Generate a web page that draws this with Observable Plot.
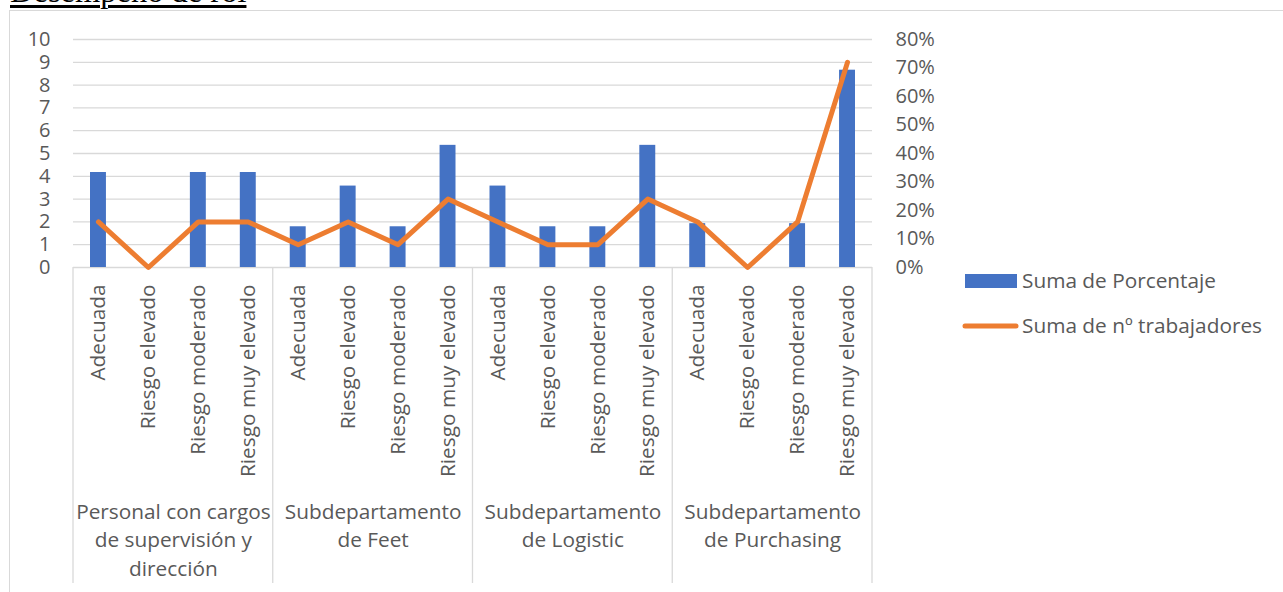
<!DOCTYPE html>
<html>
<head>
<meta charset="utf-8">
<script src="https://cdn.jsdelivr.net/npm/d3@7"></script>
<script src="https://cdn.jsdelivr.net/npm/@observablehq/plot@0.6"></script>
<style>
  html, body { margin: 0; padding: 0; background: #fff; }
  #wrap { position: relative; width: 1283px; height: 592px; overflow: hidden; }
  #title {
    position: absolute; left: 10px; top: -25px;
    font-family: "Liberation Serif", "Times New Roman", serif;
    font-size: 32.5px; line-height: 33px; color: #000;
    text-decoration: underline; text-decoration-thickness: 2.5px;
    text-underline-offset: 3px; white-space: nowrap;
  }
  #frame {
    position: absolute; left: 9px; top: 10px; right: -5px; bottom: -5px;
    border-top: 1.3px solid #d9d9d9; border-left: 1.3px solid #d9d9d9;
  }
  #chart { position: absolute; left: 0; top: 0; width: 1283px; height: 592px; }
</style>
</head>
<body>
<div id="wrap">
  <div id="title">Desempeño de rol</div>
  <div id="frame"></div>
  <div id="chart"></div>
</div>
<script>
// Departments (outer axis level) and risk levels (inner axis level)
const groups = [
  "Personal con cargos\nde supervisión y\ndirección",
  "Subdepartamento\nde Feet",
  "Subdepartamento\nde Logistic",
  "Subdepartamento\nde Purchasing"
];
const categories = ["Adecuada", "Riesgo elevado", "Riesgo moderado", "Riesgo muy elevado"];

// Suma de nº trabajadores (left axis), one row per department
const trabajadores = [
  [2, 0, 2, 2],
  [1, 2, 1, 3],
  [2, 1, 1, 3],
  [2, 0, 2, 9]
];

// Suma de Porcentaje (right axis, %), one row per department
const porcentaje = [
  [33.33, 0, 33.33, 33.33],
  [14.29, 28.57, 14.29, 42.86],
  [28.57, 14.29, 14.29, 42.86],
  [15.38, 0, 15.38, 69.23]
];

const leftTicks = [0, 1, 2, 3, 4, 5, 6, 7, 8, 9, 10];
const rightTicks = [0, 10, 20, 30, 40, 50, 60, 70, 80];

const blue = "#4472C4";
const orange = "#ED7D31";
const textColor = "#595959";
const gridColor = "#d9d9d9";

const rows = [];
groups.forEach((g, gi) => {
  categories.forEach((c, ci) => {
    rows.push({
      key: gi + "|" + c,
      group: gi,
      category: c,
      count: trabajadores[gi][ci],
      pct: porcentaje[gi][ci]
    });
  });
});
const keys = rows.map(d => d.key);

const W = 1283, H = 592;
const mL = 73, mR = 411, mT = 39, mB = 325;
const bw = (W - mL - mR) / keys.length;

// secondary axis: the percentage range [0, 80] shares the height of the count range [0, 10]
const leftMax = leftTicks[leftTicks.length - 1];
const rightMax = rightTicks[rightTicks.length - 1];
const toLeft = p => p * leftMax / rightMax;

const groupRows = groups.map((label, gi) => ({label, key: keys[gi * 4 + 2]}));

const chart = Plot.plot({
  width: W,
  height: H,
  marginLeft: mL,
  marginRight: mR,
  marginTop: mT,
  marginBottom: mB,
  style: {fontFamily: "'Open Sans', sans-serif", fontSize: "20px", color: textColor, background: "transparent"},
  x: {domain: keys, padding: 0, round: false, axis: null, label: null},
  y: {domain: [0, leftMax], axis: null, label: null},
  marks: [
    Plot.gridY(leftTicks, {stroke: gridColor, strokeOpacity: 1, strokeWidth: 1.3}),
    Plot.barY(rows, {x: "key", y: d => toLeft(d.pct), fill: blue, insetLeft: 17, insetRight: 17}),
    Plot.lineY(rows, {x: "key", y: "count", stroke: orange, strokeWidth: 5, strokeLinejoin: "round", strokeLinecap: "round"}),
    Plot.axisY(leftTicks, {anchor: "left", tickSize: 0, tickPadding: 23, label: null, fontSize: 20, fill: textColor}),
    Plot.axisY(rightTicks.map(toLeft), {anchor: "right", tickSize: 0, tickPadding: 23, label: null, fontSize: 20, fill: textColor,
      tickFormat: d => Math.round(d * rightMax / leftMax) + "%"}),
    Plot.axisX({anchor: "bottom", tickSize: 0, tickPadding: 17, tickRotate: -90, label: null, fontSize: 20.8, fill: textColor,
      tickFormat: d => d.split("|")[1]}),
    Plot.text(groupRows, {x: "key", text: "label", dx: -bw / 2, frameAnchor: "bottom", dy: 231,
      lineAnchor: "top", lineHeight: 1.37, fontSize: 20.8, fill: textColor})
  ]
});

// category-group separators below the plot area
const sx = chart.scale("x");
const sy = chart.scale("y");
const svg = d3.select(chart);
const y0 = sy.apply(0);
const sepBottom = 583;
const sepX = [0, 4, 8, 12].map(i => sx.apply(keys[i])).concat([sx.apply(keys[keys.length - 1]) + sx.bandwidth]);
svg.append("g").selectAll("line").data(sepX).join("line")
  .attr("x1", d => d).attr("x2", d => d)
  .attr("y1", y0).attr("y2", sepBottom)
  .attr("stroke", gridColor).attr("stroke-width", 1.3);

// legend
const lg = svg.append("g")
  .attr("font-family", "'Open Sans', sans-serif")
  .attr("font-size", 20.8)
  .attr("text-anchor", "start")
  .attr("fill", textColor);
lg.append("rect").attr("x", 965).attr("y", 274).attr("width", 52).attr("height", 14).attr("fill", blue);
lg.append("text").attr("x", 1022).attr("y", 287.5).text("Suma de Porcentaje");
lg.append("line").attr("x1", 965).attr("x2", 1016).attr("y1", 326).attr("y2", 326)
  .attr("stroke", orange).attr("stroke-width", 5).attr("stroke-linecap", "round");
lg.append("text").attr("x", 1022).attr("y", 333).text("Suma de nº trabajadores");

document.getElementById("chart").appendChild(chart);
</script>
</body>
</html>
